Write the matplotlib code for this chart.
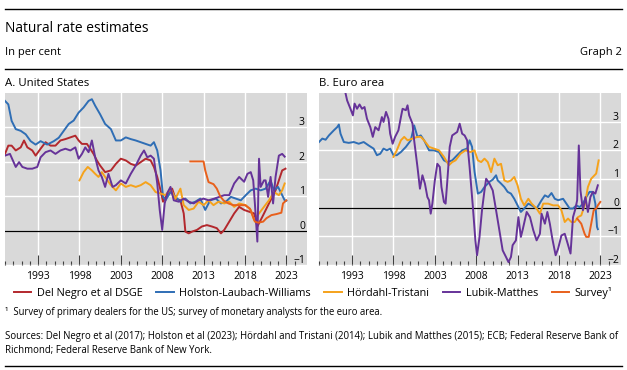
import numpy as np
import matplotlib
matplotlib.use("Agg")
import matplotlib.pyplot as plt
import matplotlib.transforms as mtrans
from matplotlib.lines import Line2D

plt.rcParams['font.family'] = ['Open Sans', 'DejaVu Sans']

# ---- data: (year, per cent) ----
us_dsge = [(1989.0, 2.23), (1989.4, 2.47), (1989.8, 2.47), (1990.3, 2.33), (1990.9, 2.42),
           (1991.3, 2.62), (1991.7, 2.42), (1992.3, 2.33), (1992.7, 2.18), (1993.3, 2.38),
           (1993.9, 2.57), (1994.5, 2.47), (1995.1, 2.47), (1995.7, 2.62), (1996.3, 2.66),
           (1996.9, 2.71), (1997.5, 2.76), (1997.9, 2.62), (1998.3, 2.52), (1998.9, 2.52),
           (1999.3, 2.38), (1999.7, 2.23), (2000.1, 2.04), (2000.5, 1.89), (2001.1, 1.70),
           (2001.8, 1.75), (2002.4, 1.94), (2003.0, 2.09), (2003.6, 2.04), (2004.2, 1.94),
           (2004.8, 1.89), (2005.4, 1.99), (2006.0, 2.09), (2006.6, 2.04), (2007.0, 1.85),
           (2007.4, 1.56), (2007.8, 1.17), (2008.1, 0.84), (2008.4, 0.98), (2008.8, 1.08),
           (2009.2, 1.22), (2009.6, 0.93), (2010.2, 0.88), (2010.6, 0.50), (2010.8, -0.03),
           (2011.2, -0.08), (2011.6, -0.03), (2012.2, 0.02), (2012.8, 0.12), (2013.4, 0.16),
           (2014.0, 0.12), (2014.6, 0.07), (2015.1, -0.08), (2015.5, 0.02), (2016.1, 0.26),
           (2016.7, 0.50), (2017.3, 0.69), (2017.9, 0.60), (2018.5, 0.55), (2019.1, 0.50),
           (2019.5, 0.12), (2020.1, 0.40), (2020.7, 0.69), (2021.3, 0.98), (2021.7, 1.17),
           (2022.1, 1.46), (2022.5, 1.75), (2022.9, 1.80)]

us_hlw = [(1989.0, 3.77), (1989.4, 3.67), (1989.8, 3.19), (1990.3, 2.95), (1990.9, 2.90),
          (1991.5, 2.80), (1992.1, 2.60), (1992.7, 2.50), (1993.3, 2.60), (1994.1, 2.50),
          (1994.9, 2.60), (1995.5, 2.70), (1996.1, 2.90), (1996.7, 3.10), (1997.3, 3.20),
          (1997.9, 3.43), (1998.5, 3.58), (1999.1, 3.77), (1999.5, 3.82), (1999.9, 3.63),
          (2000.5, 3.38), (2001.1, 3.10), (2001.8, 2.95), (2002.4, 2.62), (2003.0, 2.62),
          (2003.6, 2.71), (2004.2, 2.66), (2004.8, 2.62), (2005.4, 2.57), (2006.0, 2.52),
          (2006.6, 2.47), (2007.0, 2.57), (2007.4, 2.33), (2007.8, 1.75), (2008.1, 0.98),
          (2008.4, 0.88), (2009.0, 1.12), (2009.6, 0.98), (2010.2, 0.84), (2010.8, 0.93),
          (2011.4, 0.79), (2012.0, 0.84), (2012.6, 0.93), (2013.2, 0.60), (2013.8, 0.88),
          (2014.5, 0.93), (2015.1, 0.79), (2015.7, 0.84), (2016.3, 0.98), (2016.9, 0.93),
          (2017.5, 0.88), (2018.1, 1.03), (2018.7, 1.17), (2019.3, 1.22), (2019.9, 1.17),
          (2020.5, 1.22), (2021.1, 1.46), (2021.5, 1.17), (2022.0, 1.27), (2022.4, 1.08),
          (2022.8, 0.88), (2023.0, 0.87)]

us_ht = [(1998.0, 1.46), (1998.5, 1.70), (1999.0, 1.85), (1999.5, 1.75), (1999.9, 1.65),
         (2000.3, 1.56), (2000.7, 1.70), (2001.1, 1.56), (2001.8, 1.32), (2002.4, 1.17),
         (2003.0, 1.37), (2003.6, 1.27), (2004.2, 1.32), (2004.8, 1.27), (2005.4, 1.32),
         (2006.0, 1.41), (2006.6, 1.32), (2007.2, 1.12), (2007.8, 1.08), (2008.4, 1.03),
         (2009.0, 1.22), (2009.6, 0.93), (2010.2, 1.22), (2010.6, 0.74), (2011.2, 0.60),
         (2011.8, 0.64), (2012.4, 0.84), (2013.0, 0.74), (2013.6, 0.88), (2014.2, 0.74),
         (2014.8, 0.84), (2015.5, 0.79), (2016.1, 0.84), (2016.7, 0.69), (2017.3, 0.79),
         (2018.1, 0.74), (2018.7, 0.60), (2019.1, 0.31), (2019.7, 0.50), (2020.3, 0.69),
         (2020.9, 0.88), (2021.5, 1.12), (2022.1, 1.03), (2022.5, 1.17), (2022.8, 1.37)]

us_lm = [(1989.0, 2.18), (1989.6, 2.23), (1990.3, 1.85), (1990.7, 1.99), (1991.1, 1.85),
         (1991.7, 1.80), (1992.3, 1.80), (1992.9, 1.85), (1993.3, 2.13), (1993.9, 2.28),
         (1994.5, 2.33), (1995.1, 2.23), (1995.7, 2.33), (1996.3, 2.38), (1996.9, 2.33),
         (1997.5, 2.42), (1997.9, 2.09), (1998.3, 2.23), (1998.7, 2.42), (1999.1, 2.28),
         (1999.5, 2.62), (1999.9, 2.13), (2000.3, 1.75), (2000.7, 1.56), (2001.1, 1.27),
         (2001.5, 1.65), (2002.0, 1.27), (2002.4, 1.32), (2003.0, 1.46), (2003.6, 1.37),
         (2004.2, 1.65), (2004.8, 1.89), (2005.4, 2.18), (2005.8, 2.33), (2006.2, 2.13),
         (2006.6, 2.18), (2007.0, 2.09), (2007.4, 1.37), (2007.7, 0.60), (2008.0, 0.02),
         (2008.3, 0.79), (2008.6, 1.08), (2009.0, 1.27), (2009.4, 0.88), (2010.0, 0.84),
         (2010.6, 0.93), (2011.2, 0.84), (2011.8, 0.79), (2012.4, 0.88), (2013.0, 0.93),
         (2013.6, 0.88), (2014.3, 0.93), (2014.9, 0.98), (2015.5, 1.03), (2016.1, 1.03),
         (2016.7, 1.37), (2017.3, 1.56), (2017.9, 1.42), (2018.3, 1.65), (2018.7, 1.70),
         (2019.0, 1.46), (2019.2, 0.79), (2019.5, -0.32), (2019.7, 2.09), (2019.9, 1.27),
         (2020.3, 1.46), (2020.5, 1.46), (2020.8, 0.98), (2021.1, 1.56), (2021.4, 0.79),
         (2021.7, 1.56), (2022.1, 2.18), (2022.5, 2.23), (2022.8, 2.15)]

us_survey = [(2011.4, 2.01), (2013.0, 2.01), (2013.2, 1.75), (2013.6, 1.41), (2014.2, 1.35),
             (2014.6, 1.22), (2015.0, 1.00), (2015.4, 0.88), (2016.0, 0.79), (2016.6, 0.74),
             (2018.0, 0.74), (2018.6, 0.64), (2019.2, 0.26), (2019.6, 0.23), (2020.2, 0.26),
             (2020.6, 0.36), (2021.2, 0.45), (2021.8, 0.48), (2022.4, 0.52), (2022.6, 0.79),
             (2023.0, 0.88)]

ea_hlw = [(1989.0, 2.29), (1989.4, 2.41), (1989.8, 2.37), (1990.2, 2.52), (1990.8, 2.70),
          (1991.2, 2.81), (1991.4, 2.90), (1991.6, 2.58), (1992.0, 2.29), (1992.6, 2.26),
          (1993.2, 2.29), (1993.8, 2.23), (1994.4, 2.29), (1995.0, 2.17), (1995.6, 2.06),
          (1996.0, 1.83), (1996.4, 1.88), (1996.8, 2.06), (1997.2, 2.00), (1997.6, 2.06),
          (1998.0, 1.83), (1998.4, 1.83), (1998.9, 1.94), (1999.5, 2.12), (2000.1, 2.35),
          (2000.5, 2.87), (2000.9, 2.47), (2001.3, 2.52), (2001.7, 2.35), (2002.3, 2.00),
          (2002.9, 2.00), (2003.5, 1.94), (2004.1, 1.65), (2004.5, 1.59), (2005.1, 1.65),
          (2005.7, 1.83), (2006.3, 2.00), (2006.9, 2.06), (2007.2, 2.35), (2007.5, 2.12),
          (2007.8, 1.25), (2008.2, 0.49), (2008.6, 0.55), (2009.0, 0.72), (2009.6, 0.90),
          (2010.0, 0.98), (2010.4, 1.13), (2010.6, 0.95), (2011.0, 0.84), (2011.4, 0.72),
          (2011.8, 0.55), (2012.2, 0.49), (2012.6, 0.31), (2013.0, 0.08), (2013.4, -0.15),
          (2013.8, -0.03), (2014.3, 0.14), (2014.7, 0.08), (2015.3, -0.03), (2015.9, 0.26),
          (2016.3, 0.43), (2016.7, 0.37), (2017.1, 0.51), (2017.5, 0.31), (2017.9, 0.26),
          (2018.5, 0.31), (2018.9, 0.14), (2019.3, -0.03), (2019.7, -0.03), (2020.1, 0.08),
          (2020.5, 0.02), (2020.9, 0.14), (2021.3, 0.37), (2021.7, 0.55), (2022.1, 0.55),
          (2022.4, 0.14), (2022.6, -0.67), (2022.7, -0.75)]

ea_ht = [(1998.0, 1.77), (1998.4, 2.00), (1998.9, 2.35), (1999.3, 2.47), (1999.7, 2.35),
         (2000.3, 2.41), (2000.9, 2.47), (2001.3, 2.47), (2001.7, 2.35), (2002.3, 2.12),
         (2002.9, 2.06), (2003.5, 2.00), (2004.1, 1.77), (2004.7, 1.48), (2005.1, 1.59),
         (2005.5, 1.65), (2006.1, 1.88), (2006.7, 2.00), (2007.3, 1.94), (2007.8, 2.00),
         (2008.2, 1.65), (2008.6, 1.59), (2009.0, 1.71), (2009.4, 1.59), (2009.8, 1.24),
         (2010.2, 1.71), (2010.6, 1.48), (2011.0, 1.53), (2011.4, 0.95), (2011.8, 0.90),
         (2012.2, 0.95), (2012.6, 1.07), (2013.0, 0.78), (2013.4, 0.31), (2013.8, 0.08),
         (2014.3, 0.31), (2014.7, 0.14), (2015.3, -0.03), (2015.7, -0.21), (2016.1, 0.14),
         (2016.7, 0.14), (2017.3, 0.08), (2017.9, 0.08), (2018.3, -0.09), (2018.7, -0.50),
         (2019.1, -0.38), (2019.5, -0.50), (2019.9, -0.50), (2020.3, -0.33), (2020.7, -0.27),
         (2021.1, 0.08), (2021.5, 0.72), (2021.9, 1.01), (2022.3, 1.13), (2022.5, 1.19),
         (2022.8, 1.65)]

ea_lm = [(1992.0, 4.30), (1992.2, 4.00), (1992.4, 3.74), (1992.8, 3.45), (1993.1, 3.22),
         (1993.3, 3.63), (1993.6, 3.45), (1993.9, 3.60), (1994.2, 3.45), (1994.5, 3.51),
         (1994.8, 3.10), (1995.2, 2.81), (1995.5, 2.47), (1995.8, 2.81), (1996.2, 2.70),
         (1996.6, 3.16), (1996.8, 2.99), (1997.1, 3.34), (1997.4, 3.10), (1997.6, 2.58),
         (1997.9, 2.23), (1998.2, 2.47), (1998.6, 2.70), (1998.9, 3.16), (1999.1, 3.45),
         (1999.5, 3.40), (1999.7, 3.57), (1999.9, 3.22), (2000.3, 2.93), (2000.5, 2.35),
         (2000.9, 1.42), (2001.2, 0.66), (2001.5, 1.13), (2001.8, 0.84), (2002.1, 0.37),
         (2002.3, 0.26), (2002.5, -0.21), (2002.7, 0.14), (2003.0, 0.95), (2003.3, 1.53),
         (2003.6, 1.42), (2003.8, 0.72), (2004.1, 0.20), (2004.3, 0.14), (2004.5, 0.90),
         (2004.8, 2.12), (2005.1, 2.52), (2005.4, 2.58), (2005.7, 2.64), (2006.0, 2.93),
         (2006.3, 2.58), (2006.6, 2.52), (2006.9, 2.35), (2007.2, 1.42), (2007.6, 0.02),
         (2007.9, -1.14), (2008.1, -1.66), (2008.4, -1.02), (2008.7, -0.09), (2009.0, 0.60),
         (2009.2, 1.01), (2009.6, 0.84), (2010.0, 0.60), (2010.4, -0.09), (2010.8, -0.79),
         (2011.2, -1.49), (2011.6, -1.72), (2011.9, -1.90), (2012.2, -1.72), (2012.4, -1.31),
         (2012.8, -1.14), (2013.1, -0.33), (2013.4, -1.02), (2013.6, -0.79), (2014.1, -0.15),
         (2014.5, -0.33), (2014.9, -0.79), (2015.3, -1.14), (2015.7, -0.91), (2015.9, -0.21),
         (2016.3, -0.56), (2016.6, -0.15), (2016.9, -0.56), (2017.2, -1.08), (2017.6, -1.66),
         (2017.9, -1.43), (2018.3, -0.97), (2018.7, -0.91), (2019.0, -1.20), (2019.4, -1.60),
         (2019.7, -0.33), (2020.0, -0.03), (2020.2, 0.26), (2020.4, 2.17), (2020.6, 0.60),
         (2020.9, -0.09), (2021.2, 0.37), (2021.5, -0.15), (2021.8, 0.37), (2022.1, 0.55),
         (2022.4, 0.49), (2022.7, 0.78)]

ea_survey = [(2020.2, -0.38), (2020.7, -0.56), (2021.1, -0.91), (2021.3, -1.02), (2021.6, -1.02),
             (2021.9, -0.56), (2022.2, -0.09), (2022.5, -0.03), (2022.7, 0.08), (2023.0, 0.20)]

series_names = ['Del Negro et al DSGE', 'Holston-Laubach-Williams', 'Hördahl-Tristani',
                'Lubik-Matthes', 'Survey¹']
colors = ['#b3282d', '#2f6eb5', '#f5a21b', '#663399', '#e8601c']

year_ticks = [1993, 1998, 2003, 2008, 2013, 2018, 2023]
us_yticks = [-1, 0, 1, 2, 3]
ea_yticks = [-2, -1, 0, 1, 2, 3]

W, H = 627, 370
fig = plt.figure(figsize=(W / 100, H / 100), dpi=100)


def px(x, y):
    """pixel position (from top-left) to figure fraction"""
    return x / W, 1 - y / H


def panel(rect, data, ylim, yticks):
    ax = fig.add_axes(rect)
    ax.set_facecolor('#d9d9d9')
    for s, c in zip(data, colors):
        if s is None:
            continue
        arr = np.array(s)
        ax.plot(arr[:, 0], arr[:, 1], color=c, lw=1.4, zorder=3)
    ax.axhline(0, color='black', lw=0.9, zorder=2)
    ax.set_xlim(1989.0, 2025.5)
    ax.set_ylim(*ylim)
    for sp in ax.spines.values():
        sp.set_visible(False)
    ax.set_xticks(year_ticks)
    ax.set_xticks(np.arange(1989, 2025), minor=True)
    ax.set_xticklabels([str(y) for y in year_ticks])
    ax.tick_params(axis='x', which='major', direction='in', length=7.5, width=0.8,
                   color='#404040', pad=4, labelsize=7.5)
    ax.tick_params(axis='x', which='minor', direction='in', length=3, width=0.8,
                   color='#404040')
    ax.set_yticks(yticks)
    ax.yaxis.set_ticks_position('right')
    ax.tick_params(axis='y', length=0, pad=-1.5, labelsize=7.5)
    # labels sit just above their gridlines, inside the plot
    off = mtrans.ScaledTranslation(0, 0.06, fig.dpi_scale_trans)
    for lab in ax.get_yticklabels():
        lab.set_horizontalalignment('right')
        lab.set_transform(lab.get_transform() + off)
    ax.grid(True, which='major', color='white', lw=1.0, zorder=1)
    ax.set_axisbelow(True)
    return ax


bottom = 1 - 265 / H
height = 172 / H
ax1 = panel([5 / W, bottom, 302 / W, height],
            [us_dsge, us_hlw, us_ht, us_lm, us_survey], (-1, 4), us_yticks)
ax2 = panel([319 / W, bottom, 302 / W, height],
            [None, ea_hlw, ea_ht, ea_lm, ea_survey], (-2, 4), ea_yticks)

# header / footer
for y in (9, 69, 366):
    fig.add_artist(Line2D([5 / W, 622 / W], [1 - y / H] * 2, color='black', lw=1.0))
fig.text(*px(5, 28), 'Natural rate estimates', fontsize=9.9, va='center')
fig.text(*px(5, 53), 'In per cent', fontsize=8, va='center')
fig.text(*px(622, 53), 'Graph 2', fontsize=8, va='center', ha='right')
fig.text(*px(5, 83), 'A. United States', fontsize=8.2, va='center')
fig.text(*px(319, 83), 'B. Euro area', fontsize=8.2, va='center')

handles = [Line2D([], [], color=c, lw=1.4) for c in colors]
fig.legend(handles, series_names, loc='center', ncol=5, mode='expand', frameon=False,
           bbox_to_anchor=(14 / W, 1 - 300 / H, 598 / W, 14 / H), fontsize=7.8,
           handlelength=1.6, handletextpad=0.5, borderpad=0, borderaxespad=0)

fig.text(*px(5, 313), '¹  Survey of primary dealers for the US; survey of monetary analysts '
         'for the euro area.', fontsize=6.85, va='center')
fig.text(*px(5, 337), 'Sources: Del Negro et al (2017); Holston et al (2023); Hördahl and '
         'Tristani (2014); Lubik and Matthes (2015); ECB; Federal Reserve Bank of',
         fontsize=6.9, va='center')
fig.text(*px(5, 350), 'Richmond; Federal Reserve Bank of New York.', fontsize=6.9, va='center')

fig.savefig('out.png', dpi=100)
